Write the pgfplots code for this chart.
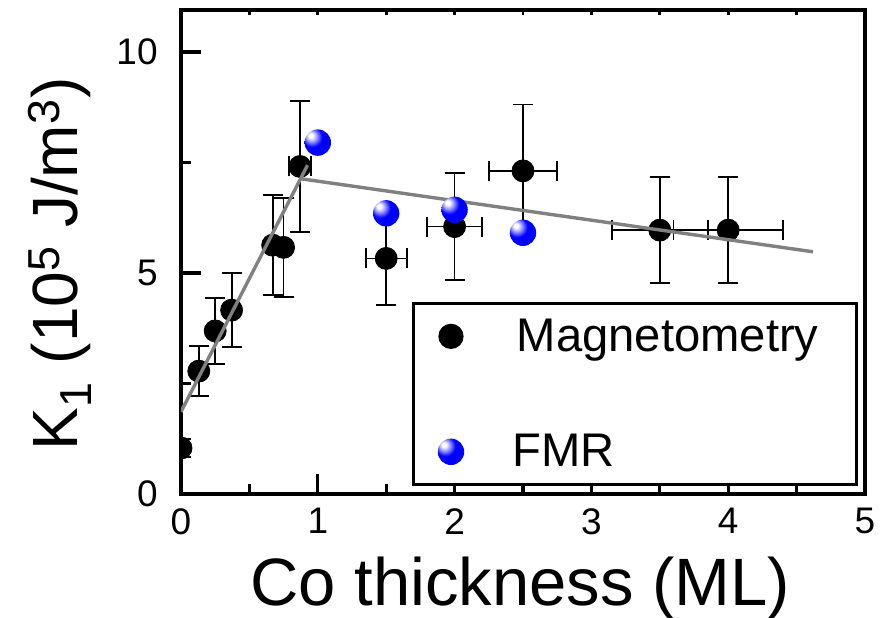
\documentclass[border=0pt]{standalone}
\usepackage{fontspec}
\setmainfont{Liberation Sans}
\usepackage{pgfplots}
\pgfplotsset{compat=1.18}

\definecolor{fitgray}{RGB}{128,128,128}

% glossy blue ball for the FMR points
\pgfdeclareradialshading{blueball}{\pgfqpoint{-14bp}{14bp}}{%
  color(0bp)=(white); color(4bp)=(white); color(11bp)=(blue!45!white);
  color(19bp)=(blue); color(80bp)=(blue)}
\pgfdeclareplotmark{fmrball}{%
  \pgfpathcircle{\pgfpointorigin}{\pgfplotmarksize}%
  \pgfshadepath{blueball}{0}%
  \pgfusepath{discard}}

\begin{document}
\begin{tikzpicture}
\path[use as bounding box] (-90.5pt,-61.5pt) rectangle (354pt,247pt);

% top edge: small inward ticks every 0.5
\begin{axis}[
    at={(0,0)}, anchor=south west,
    scale only axis, width=342pt, height=242pt,
    xmin=0, xmax=5, ymin=0, ymax=10.95,
    axis x line*=top, hide y axis,
    axis line style={draw=none},
    xtick={0,0.5,...,5}, xticklabels={},
    tick align=inside,
    major tick length=2.5pt,
    tick style={line width=1.4pt, black},
]
\end{axis}

\begin{axis}[
    at={(0,0)}, anchor=south west,
    scale only axis, width=342pt, height=242pt,
    xmin=0, xmax=5, ymin=0, ymax=10.95,
    axis line style={line width=1.6pt},
    xtick={0,1,2,3,4,5}, minor xtick={0.5,1.5,2.5,3.5,4.5},
    ytick={0,5,10}, minor ytick={2.5,7.5},
    xtick pos=left, ytick pos=left,
    tick align=inside,
    major tick length=10pt, minor tick length=5pt,
    tick style={line width=1.6pt, black},
    /pgf/number format/assume math mode=true,
    ticklabel style={font=\fontsize{18.5}{18.5}\selectfont, inner sep=0pt},
    xticklabel style={anchor=north, yshift=-7pt},
    yticklabel style={anchor=east, xshift=-11.5pt},
    xlabel={Co thickness (ML)},
    ylabel={K\textsubscript{1} (10\textsuperscript{5} J/m\textsuperscript{3})},
    xlabel style={font=\fontsize{33.5}{33.5}\selectfont,
        at={(axis description cs:0.496,0)}, anchor=base, yshift=-55.5pt},
    ylabel style={font=\fontsize{32}{32}\selectfont,
        at={(axis description cs:-0.177,0.475)}, anchor=center},
    clip mode=individual,
    clip marker paths=true,
    legend cell align=left,
    legend style={
        at={(axis description cs:0.3377,0.3967)}, anchor=north west,
        draw=black, line width=1.6pt,
        inner xsep=0pt, inner ysep=7.5pt,
        row sep=40pt, column sep=13pt,
        font=\fontsize{23.6}{23.6}\selectfont,
        nodes={inner sep=0pt},
    },
    legend image code/.code={
        \path (0pt,0pt) (35pt,0pt);
        \draw[only marks,#1] plot coordinates {(17.9pt,0pt)};
    },
]

% Magnetometry
\addplot[only marks, mark=*, mark size=5.5pt, black,
    error bars/.cd, x dir=both, x explicit, y dir=both, y explicit,
    error bar style={line width=0.9pt, black},
    error mark options={rotate=90, line width=0.9pt, mark size=5pt, black}]
    table[x=x, y=y, x error=ex, y error=ey] {
    x     y     ex    ey
    0.00  1.04  0.00  0.20
    0.13  2.78  0.00  0.56
    0.25  3.69  0.00  0.75
    0.37  4.16  0.00  0.84
    0.67  5.63  0.00  1.13
    0.75  5.58  0.00  1.12
    0.87  7.41  0.08  1.49
    1.50  5.33  0.15  1.05
    2.00  6.05  0.20  1.21
    2.50  7.31  0.25  1.50
    3.50  5.97  0.35  1.20
    4.00  5.97  0.40  1.20
    };
\addlegendentry{\hspace*{2pt}Magnetometry\hspace*{19pt}}

% linear fits
\addplot[fitgray, line width=1.7pt, forget plot] coordinates {(0,1.86) (0.925,7.44)};
\addplot[fitgray, line width=1.7pt, forget plot] coordinates {(0.88,7.13) (4.62,5.48)};

% FMR
\addplot[only marks, mark=fmrball, mark size=6.6pt]
    coordinates {(1.0,7.95) (1.5,6.35) (2.0,6.43) (2.5,5.91)};
\addlegendentry{FMR}

\end{axis}
\end{tikzpicture}
\end{document}
